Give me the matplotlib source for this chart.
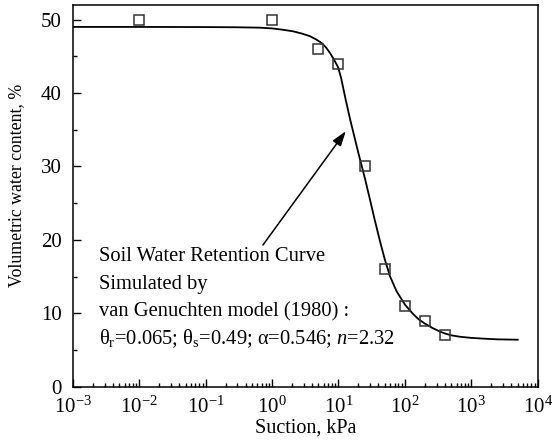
import numpy as np
import matplotlib as mpl
import matplotlib.pyplot as plt

mpl.rcParams['font.family'] = ['Liberation Serif', 'DejaVu Serif']
mpl.rcParams['mathtext.fontset'] = 'custom'
mpl.rcParams['mathtext.rm'] = 'Liberation Serif'
mpl.rcParams['mathtext.it'] = 'Liberation Serif:italic'
mpl.rcParams['mathtext.bf'] = 'Liberation Serif:bold'

# measured points
suction = [0.01, 1, 5, 10, 25, 50, 100, 200, 400]
water = [50, 50, 46, 44, 30, 16, 11, 9, 7]

# fitted curve
curve_suction = [0.001, 0.01, 0.1, 0.3, 0.65, 1, 1.5, 2.08, 2.8, 3.7, 4.6, 5.6, 6.5,
                 7.4, 8.5, 9.9, 11, 12.5, 15, 20, 25, 30, 35, 42, 50, 60, 75, 100,
                 130, 160, 200, 260, 340, 400, 500, 680, 1000, 1500, 2500, 5000]
curve_water = [49.0, 49.0, 48.98, 48.95, 48.9, 48.8, 48.6, 48.4, 48.1, 47.75, 47.3,
               46.8, 46.2, 45.5, 44.6, 43.5, 42.0, 39.6, 36.4, 31.8, 28.4, 25.4, 22.8,
               19.9, 17.3, 15.0, 13.0, 11.2, 10.0, 9.2, 8.6, 8.0, 7.5, 7.25, 7.0, 6.8,
               6.65, 6.55, 6.45, 6.4]

fig = plt.figure(figsize=(5.56, 4.45), dpi=100)
ax = fig.add_axes([0.131, 0.131, 0.836, 0.858])

ax.plot(curve_suction, curve_water, color='black', lw=1.3, zorder=2)
ax.plot(suction, water, ls='none', marker='s', ms=7.6, mfc='none', mec='#333333',
        mew=1.1, zorder=3)

ax.set_xscale('log')
ax.set_xlim(1e-3, 1e4)
ax.set_ylim(0, 52)
ax.set_yticks([0, 10, 20, 30, 40, 50])
ax.set_yticks([5, 15, 25, 35, 45], minor=True)
ax.xaxis.set_major_locator(mpl.ticker.LogLocator(base=10, numticks=20))
ax.xaxis.set_minor_locator(mpl.ticker.LogLocator(base=10, subs=np.arange(2, 10), numticks=20))
ax.xaxis.set_minor_formatter(mpl.ticker.NullFormatter())

ax.tick_params(which='both', direction='in', top=False, right=False, labelsize=15)
ax.tick_params(which='major', length=6, width=1)
ax.tick_params(which='minor', length=3, width=1)
ax.tick_params(axis='x', which='major', pad=7)
ax.tick_params(axis='y', which='major', pad=8)
for s in ax.spines.values():
    s.set_linewidth(1.1)

ax.set_xlabel('Suction, kPa', fontsize=14.5, labelpad=1)
ax.set_ylabel('Volumetric water content, %', fontsize=12.8)
ax.yaxis.set_label_coords(-0.103, 0.528)

ax.annotate('', xy=(12.9, 34.8), xytext=(0.73, 19.3),
            arrowprops=dict(arrowstyle='-|>,head_length=0.9,head_width=0.3',
                            color='black', lw=1.1, shrinkA=0, shrinkB=0))

tx = 0.0025
ax.text(tx, 17.8, 'Soil Water Retention Curve', fontsize=14.8, va='center')
ax.text(tx, 13.9, 'Simulated by', fontsize=14.8, va='center')
ax.text(tx, 10.2, 'van Genuchten model (1980) :', fontsize=14.8, va='center')
ax.text(tx, 6.5, r'θ$_\mathrm{r}$=0.065; θ$_\mathrm{s}$=0.49; α=0.546; $n$=2.32',
        fontsize=14.8, va='center')

fig.savefig('out.png', dpi=100)
